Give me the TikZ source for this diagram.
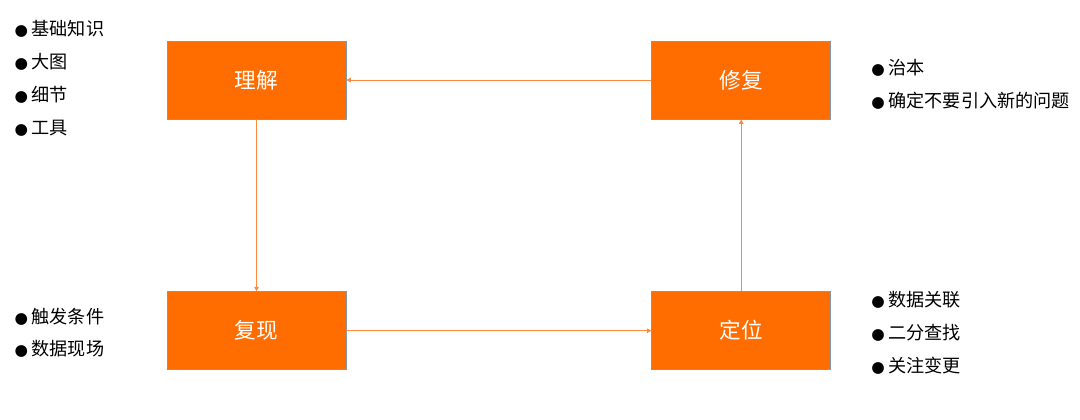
\documentclass[tikz,border=0pt]{standalone}
\usepackage{fontspec}
\setmainfont{Noto Sans CJK SC}
\newfontfamily\fuhao{DejaVu Sans}
\usepackage{xcolor}
\usetikzlibrary{arrows.meta, positioning}

\definecolor{chengse}{HTML}{FF6C00}
\definecolor{jiantou}{HTML}{FF8A3D}
\definecolor{biankuang}{HTML}{8497B0}
\newcommand{\dian}{{\fuhao\fontsize{11}{11}\selectfont ●}\hspace{2.5pt}}

\begin{document}
\begin{tikzpicture}[
    node distance=0.78cm,
    >={Triangle[length=3.2pt, width=3.2pt]},
    kuai/.style={
        rectangle,
        draw=biankuang,
        line width=0.5pt,
        fill=chengse,
        text=white,
        minimum width=4.475cm,
        minimum height=1.95cm,
        font=\fontsize{15.4}{18}\selectfont
    },
    liebiao/.style={
        anchor=west,
        align=left,
        inner sep=0pt,
        font=\fontsize{12.9}{23.4}\selectfont
    },
    xian/.style={->, draw=jiantou, line width=0.7pt}
]
\useasboundingbox (0,0) rectangle (27,-10.475);

\node[kuai] at (6.4125,-2) (lijie) {理解};
\node[kuai, right=7.625cm of lijie] (xiufu) {修复};
\node[kuai, below=4.3cm of lijie] (fuxian) {复现};
\node[kuai, below=4.3cm of xiufu] (dingwei) {定位};

% lists
\node[liebiao] at (0.36,-1.96) (lijie-l) {\dian 基础知识\\ \dian 大图\\ \dian 细节\\ \dian 工具};
\node[liebiao] at (21.78,-2.11) (xiufu-l) {\dian 治本\\ \dian 确定不要引入新的问题};
\node[liebiao] at (0.36,-8.32) (fuxian-l) {\dian 触发条件\\ \dian 数据现场};
\node[liebiao] at (21.78,-8.32) (dingwei-l) {\dian 数据关联\\ \dian 二分查找\\ \dian 关注变更};

\draw[xian] (xiufu) -- (lijie);
\draw[xian] (lijie) -- (fuxian);
\draw[xian] (fuxian) -- (dingwei);
\draw[xian] (dingwei) -- (xiufu);

\end{tikzpicture}
\end{document}
